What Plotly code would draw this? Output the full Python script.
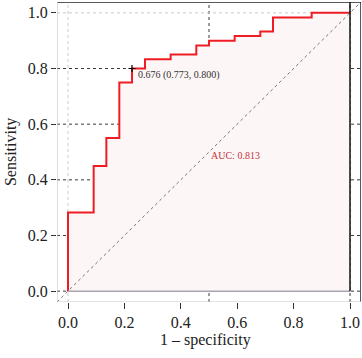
import plotly.graph_objects as go

# ROC curve corner points (1 - specificity, sensitivity)
fpr = [0.0, 0.0, 0.091, 0.136, 0.182, 0.227, 0.273, 0.364, 0.455, 0.5, 0.591, 0.682, 0.727, 0.864, 1.0]
tpr = [0.0, 0.283, 0.45, 0.55, 0.75, 0.8, 0.833, 0.85, 0.883, 0.9, 0.917, 0.933, 0.983, 1.0, 1.0]

thr_point = (0.227, 0.800)
thr_label = "0.676 (0.773, 0.800)"
auc_label = "AUC: 0.813"

tick_vals = [0.0, 0.2, 0.4, 0.6, 0.8, 1.0]
tick_text = ["0.0", "0.2", "0.4", "0.6", "0.8", "1.0"]
hgrid = [0.0, 0.2, 0.4, 0.6, 0.8]
vgrid = [0.5, 1.0]

LO, HI = -0.039, 1.039
FONT = "Liberation Serif"

fig = go.Figure()

# pink area under the curve
fig.add_trace(go.Scatter(x=fpr, y=tpr, mode="lines", line=dict(width=0, shape="hv"),
                         fill="tozeroy", fillcolor="#fdf6f6", hoverinfo="skip", showlegend=False))
# diagonal reference
fig.add_trace(go.Scatter(x=[LO, HI], y=[LO, HI], mode="lines",
                         line=dict(color="#555555", width=0.8, dash="dot"), showlegend=False))
# ROC curve
fig.add_trace(go.Scatter(x=fpr, y=tpr, mode="lines", line=dict(color="#ee1d23", width=2, shape="hv"),
                         showlegend=False))
# threshold marker
fig.add_trace(go.Scatter(x=[thr_point[0]], y=[thr_point[1]], mode="markers",
                         marker=dict(symbol="cross-thin", size=5, line=dict(color="black", width=1.2)),
                         showlegend=False))

shapes = []
for g in hgrid:
    shapes.append(dict(type="line", layer="below", xref="x", yref="y", x0=LO, x1=HI, y0=g, y1=g,
                       line=dict(color="#222222", width=0.9, dash="dot")))
for g in vgrid:
    shapes.append(dict(type="line", layer="below", xref="x", yref="y", x0=g, x1=g, y0=LO, y1=HI,
                       line=dict(color="#222222", width=0.9, dash="dot")))
# light grey dotted at x=0 and y=1
shapes.append(dict(type="line", layer="below", x0=0, x1=0, y0=LO, y1=HI,
                   line=dict(color="#c4c4c4", width=0.9, dash="dot")))
shapes.append(dict(type="line", layer="below", x0=LO, x1=1, y0=1, y1=1,
                   line=dict(color="#c4c4c4", width=0.9, dash="dot")))
# y = 0 line
shapes.append(dict(type="line", layer="above", x0=0, x1=1, y0=0, y1=0,
                   line=dict(color="#aaa4b2", width=1.5)))
# x = 1 black line
shapes.append(dict(type="line", layer="above", x0=1, x1=1, y0=0, y1=HI,
                   line=dict(color="#111111", width=1.5)))
# frame
shapes.append(dict(type="line", layer="above", x0=LO, x1=HI, y0=HI, y1=HI, line=dict(color="#222222", width=1.5)))
shapes.append(dict(type="line", layer="above", x0=HI, x1=HI, y0=LO, y1=HI, line=dict(color="#222222", width=1.5)))
shapes.append(dict(type="line", layer="above", x0=LO, x1=LO, y0=LO, y1=HI, line=dict(color="#c8c8c8", width=1.2)))
shapes.append(dict(type="line", layer="above", x0=LO, x1=HI, y0=LO, y1=LO, line=dict(color="#c8c8c8", width=1.2)))

annotations = [
    dict(x=thr_point[0] + 0.014, y=0.776, xref="x", yref="y", text=thr_label, showarrow=False,
         xanchor="left", yanchor="middle", font=dict(family=FONT, size=10, color="#333333")),
    dict(x=0.5, y=0.486, xref="x", yref="y", text=auc_label, showarrow=False,
         xanchor="left", yanchor="middle", font=dict(family=FONT, size=10, color="#c4343c")),
    dict(x=0.487, y=-0.127, xref="paper", yref="paper", text="1 – specificity", showarrow=False,
         xanchor="center", yanchor="middle", font=dict(family=FONT, size=16, color="#222222")),
    dict(x=-0.151, y=0.5, xref="paper", yref="paper", text="Sensitivity", showarrow=False, textangle=-90,
         xanchor="center", yanchor="middle", font=dict(family=FONT, size=16, color="#222222")),
]

fig.update_layout(
    width=362, height=358,
    margin=dict(l=57, r=1, t=2, b=56),
    paper_bgcolor="white", plot_bgcolor="white",
    shapes=shapes, annotations=annotations,
    xaxis=dict(range=[LO, HI], tickvals=tick_vals, ticktext=tick_text, showgrid=False, zeroline=False,
               ticks="outside", ticklen=6, tickcolor="#333333", showline=False,
               tickfont=dict(family=FONT, size=16, color="#222222")),
    yaxis=dict(range=[LO, HI], tickvals=tick_vals, ticktext=tick_text, showgrid=False, zeroline=False,
               ticks="outside", ticklen=5, tickcolor="#333333", showline=False,
               tickfont=dict(family=FONT, size=16, color="#222222")),
)

fig.write_html("out.html")
